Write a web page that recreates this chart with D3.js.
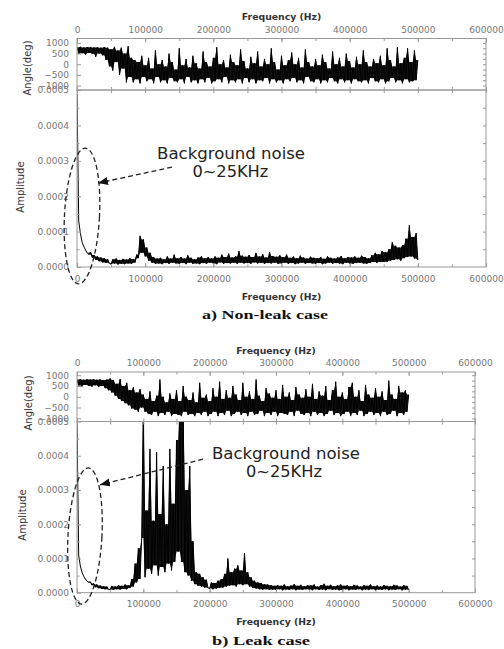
<!DOCTYPE html>
<html>
<head>
<meta charset="utf-8">
<script src="https://cdn.jsdelivr.net/npm/d3@7"></script>
<style>
body { margin: 0; background: #fff; }
text { font-family: "DejaVu Sans", sans-serif; }
</style>
</head>
<body>
<script>
// spectra sampled every 2500 Hz from 0 to 500000 Hz
const binHz = 2500;
const freqTicks = [0, 100000, 200000, 300000, 400000, 500000, 600000];
const angleTicks = [-1000, -500, 0, 500, 1000];
const ampTicks = [0, 0.0001, 0.0002, 0.0003, 0.0004, 0.0005];

// a) non-leak case: phase (deg) and amplitude (x 1e-6)
const phaseA = [
  800,500,820,520,790,460,810,530,800,480,790,350,800,500,780,420,810,200,780,-100,
  700,-300,820,100,650,-500,780,-200,500,-850,850,-600,300,-850,200,-700,100,-900,400,-600,
  -50,-800,300,-700,-200,-900,650,-600,0,-850,200,-750,-100,-900,500,-650,100,-800,-250,-850,
  750,-700,-50,-900,250,-600,-150,-850,400,-750,50,-900,-200,-700,600,-850,100,-650,-100,-900,
  300,-800,800,-700,0,-850,200,-600,-150,-900,450,-750,100,-850,-50,-700,700,-900,150,-650,
  -200,-850,350,-700,50,-900,600,-750,-100,-800,250,-650,0,-900,750,-700,100,-850,-250,-750,
  400,-900,-50,-700,200,-800,550,-650,0,-850,300,-750,-150,-900,700,-600,100,-800,-100,-850,
  250,-700,-50,-900,450,-750,100,-850,-200,-650,600,-800,0,-900,300,-700,-100,-850,500,-750,
  150,-900,-150,-700,350,-800,0,-850,650,-750,100,-900,-100,-650,250,-800,50,-850,400,-700,
  -50,-900,750,-800,200,-650,-100,-850,800,-750,50,-900,300,-700,750,-850,100,-800,650,-750,
  200
];
const ampA = [
  490,130,95,70,58,48,40,35,42,26,34,20,30,16,27,13,25,12,22,10,
  8,22,10,24,7,20,9,23,8,21,10,25,9,22,12,35,25,88,40,78,
  30,55,18,40,12,28,9,24,10,26,8,22,11,30,9,24,12,35,10,25,
  9,28,11,24,8,33,12,26,9,22,10,27,8,30,11,25,9,28,12,24,
  10,30,8,26,13,35,9,28,11,38,10,27,12,30,9,45,12,32,10,29,
  11,34,9,28,13,40,10,30,12,36,9,27,11,42,10,31,12,29,9,33,
  10,28,12,35,9,26,11,30,8,25,10,32,12,27,9,24,11,29,10,26,
  9,25,11,28,8,23,10,30,12,26,9,24,11,27,10,31,8,25,12,28,
  10,27,9,30,11,26,12,32,10,28,9,25,11,33,14,40,12,36,14,45,
  14,42,15,50,18,70,20,60,22,55,18,62,25,80,28,118,30,85,24,96,
  20
];

// b) leak case
const phaseB = [
  800,520,820,480,790,550,810,500,800,470,820,530,790,450,810,500,780,400,800,300,
  850,200,780,50,600,-100,820,-200,500,-300,650,-400,300,-550,450,-600,200,-700,350,-500,
  100,-700,-100,-800,250,-850,-200,-700,50,-900,800,-750,0,-850,-250,-700,150,-900,-100,-800,
  300,-850,-200,-900,500,-700,0,-850,-150,-800,200,-900,-250,-750,650,-850,-50,-700,100,-900,
  -200,-800,400,-700,0,-900,700,-750,-100,-850,300,-650,-50,-900,500,-800,100,-700,-150,-850,
  650,-750,0,-900,250,-700,-100,-850,800,-800,50,-650,-200,-900,400,-750,150,-850,-50,-700,
  300,-900,-100,-750,550,-800,0,-850,200,-700,-150,-900,450,-650,100,-800,-50,-850,350,-750,
  0,-900,600,-700,-100,-850,250,-750,50,-900,500,-800,-150,-650,300,-850,700,-750,0,-900,
  200,-800,-100,-700,450,-900,650,-750,0,-850,300,-650,-200,-900,550,-800,100,-700,-50,-850,
  400,-750,0,-900,250,-700,-150,-850,750,-800,100,-650,-100,-900,500,-750,200,-850,300,-700,
  100
];
const ampB = [
  500,110,78,60,48,40,34,30,32,22,27,16,24,13,21,11,19,10,18,9,
  9,20,8,18,10,22,9,20,11,24,10,22,14,40,18,85,30,130,40,160,
  560,45,240,70,420,55,210,80,410,50,230,75,370,60,200,85,420,65,260,90,
  446,120,560,90,560,60,300,50,370,35,150,25,60,20,55,18,45,15,38,14,
  12,30,10,28,12,35,14,40,15,55,18,100,20,60,22,70,18,80,25,65,
  22,116,25,60,18,45,14,35,12,30,10,28,9,25,10,24,8,22,9,20,
  8,22,10,20,7,24,9,19,8,21,10,25,7,20,9,23,8,19,10,22,
  9,21,7,24,10,18,8,22,9,26,7,20,10,23,8,19,9,21,7,24,
  8,20,10,22,7,19,9,23,8,21,10,18,7,22,9,20,8,24,10,19,
  7,21,9,18,8,22,10,20,7,19,9,23,8,21,10,18,7,22,9,20,
  8
];

const svg = d3.select("body").append("svg").attr("width", 504).attr("height", 649);

svg.append("defs").append("marker")
  .attr("id", "arrow").attr("markerUnits", "userSpaceOnUse")
  .attr("markerWidth", 12).attr("markerHeight", 10)
  .attr("refX", 10).attr("refY", 4).attr("orient", "auto")
  .append("path").attr("d", "M0,0 L10,4 L0,8 Z").attr("fill", "#111");

function styleAxis(g, labels) {
  g.select(".domain").remove();
  g.selectAll(".tick line").attr("stroke", "#999");
  g.selectAll("text").attr("fill", "#777").attr("font-size", 9)
    .attr("font-family", "DejaVu Sans, sans-serif");
  if (!labels) g.selectAll("text").remove();
}

// dense trace: fill the band between neighbouring samples, then draw the line for the spikes
function trace(g, data, x, y, clip) {
  const nb = i => [i > 0 ? data[i - 1] : data[i], i < data.length - 1 ? data[i + 1] : data[i]];
  const lo = data.map((v, i) => Math.min(v, d3.max(nb(i))));
  const hi = data.map((v, i) => Math.max(v, d3.min(nb(i))));
  g.append("path").datum(data)
    .attr("clip-path", clip).attr("fill", "#111")
    .attr("d", d3.area().x((d, i) => x(i * binHz)).y0((d, i) => y(lo[i])).y1((d, i) => y(hi[i])));
  g.append("path").datum(data)
    .attr("clip-path", clip)
    .attr("fill", "none").attr("stroke", "#000").attr("stroke-width", 1)
    .attr("stroke-linejoin", "bevel")
    .attr("d", d3.line().x((d, i) => x(i * binHz)).y(d => y(d)));
}

function panel(o, idx) {
  const x = d3.scaleLinear().domain([0, 600000]).range([o.left, o.right]);
  const yAng = d3.scaleLinear().domain([-o.angMax, o.angMax]).range([o.angBottom, o.angTop]);
  const yAmp = d3.scaleLinear().domain([0, 0.0005]).range([o.ampBottom, o.angBottom]);
  const yAmpU = v => yAmp(v * 1e-6);
  const minorF = d3.range(0, 600001, 50000);

  const g = svg.append("g");

  // clip paths
  const defs = svg.select("defs");
  defs.append("clipPath").attr("id", "cAng" + idx).append("rect")
    .attr("x", o.left).attr("y", o.angTop).attr("width", o.right - o.left).attr("height", o.angBottom - o.angTop);
  defs.append("clipPath").attr("id", "cAmp" + idx).append("rect")
    .attr("x", o.left).attr("y", o.angBottom).attr("width", o.right - o.left).attr("height", o.ampBottom - o.angBottom);

  // data
  trace(g, o.phase, x, yAng, `url(#cAng${idx})`);
  trace(g, o.amp, x, yAmpU, `url(#cAmp${idx})`);

  // frames
  [[o.angTop, o.angBottom], [o.angBottom, o.ampBottom]].forEach(([t, b]) => {
    g.append("rect").attr("x", o.left).attr("y", t)
      .attr("width", o.right - o.left).attr("height", b - t)
      .attr("fill", "none").attr("stroke", "#999").attr("stroke-width", 1);
  });

  // top axis with labels
  g.append("g").attr("transform", `translate(0,${o.angTop})`)
    .call(d3.axisTop(x).tickValues(freqTicks).tickSize(-4).tickPadding(o.topPad).tickFormat(d3.format("d")))
    .call(s => styleAxis(s, true));
  g.append("g").attr("transform", `translate(0,${o.angTop})`)
    .call(d3.axisTop(x).tickValues(minorF).tickSize(-2.5))
    .call(s => styleAxis(s, false));
  // ticks at the panel boundary
  g.append("g").attr("transform", `translate(0,${o.angBottom})`)
    .call(d3.axisBottom(x).tickValues(minorF).tickSize(-3))
    .call(s => styleAxis(s, false));
  g.append("g").attr("transform", `translate(0,${o.angBottom})`)
    .call(d3.axisTop(x).tickValues(minorF).tickSize(-3))
    .call(s => styleAxis(s, false));
  // bottom axis with labels
  g.append("g").attr("transform", `translate(0,${o.ampBottom})`)
    .call(d3.axisBottom(x).tickValues(freqTicks).tickSize(-4).tickPadding(o.bottomPad).tickFormat(d3.format("d")))
    .call(s => styleAxis(s, true));
  g.append("g").attr("transform", `translate(0,${o.ampBottom})`)
    .call(d3.axisBottom(x).tickValues(minorF).tickSize(-2.5))
    .call(s => styleAxis(s, false));

  // left axes
  g.append("g").attr("transform", `translate(${o.left},0)`)
    .call(d3.axisLeft(yAng).tickValues(angleTicks).tickSize(-4).tickPadding(8).tickFormat(d3.format("d")))
    .call(s => styleAxis(s, true));
  g.append("g").attr("transform", `translate(${o.left},0)`)
    .call(d3.axisLeft(yAmp).tickValues(ampTicks).tickSize(-4).tickPadding(8).tickFormat(d3.format(".4f")))
    .call(s => styleAxis(s, true));
  g.append("g").attr("transform", `translate(${o.left},0)`)
    .call(d3.axisLeft(yAmp).tickValues(d3.range(0.00005, 0.0005, 0.0001)).tickSize(-2.5))
    .call(s => styleAxis(s, false));
  // right axes
  g.append("g").attr("transform", `translate(${o.right},0)`)
    .call(d3.axisRight(yAng).tickValues(d3.range(-1000, 1001, 250)).tickSize(-3))
    .call(s => styleAxis(s, false));
  g.append("g").attr("transform", `translate(${o.right},0)`)
    .call(d3.axisRight(yAmp).tickValues(d3.range(0.00005, 0.0005, 0.00005)).tickSize(-3))
    .call(s => styleAxis(s, false));

  // titles
  const mid = (o.left + o.right) / 2;
  g.append("text").attr("x", mid).attr("y", o.topTitleY).attr("text-anchor", "middle")
    .attr("font-size", 9.3).attr("font-weight", "bold").attr("fill", "#333").text("Frequency (Hz)");
  g.append("text").attr("x", mid).attr("y", o.bottomTitleY).attr("text-anchor", "middle")
    .attr("font-size", 9.3).attr("font-weight", "bold").attr("fill", "#333").text("Frequency (Hz)");
  g.append("text").attr("transform", `translate(${o.angLabel[0]},${o.angLabel[1]}) rotate(-90)`)
    .attr("text-anchor", "middle").attr("font-size", 10).attr("fill", "#333").text("Angle(deg)");
  g.append("text").attr("transform", `translate(${o.ampLabel[0]},${o.ampLabel[1]}) rotate(-90)`)
    .attr("text-anchor", "middle").attr("font-size", 10).attr("fill", "#333").text("Amplitude");
  g.append("text").attr("x", o.caption[0]).attr("y", o.caption[1]).attr("text-anchor", "middle")
    .style("font-family", "'Liberation Serif', serif").attr("font-weight", "bold").attr("font-size", 13)
    .attr("textLength", o.caption[2]).attr("lengthAdjust", "spacingAndGlyphs")
    .attr("fill", "#111").text(o.caption[3]);

  // annotation
  const n = o.note;
  const cx = x(n.ellipse[0]), cy = yAmp(n.ellipse[1]);
  g.append("ellipse").attr("cx", cx).attr("cy", cy)
    .attr("rx", x(n.ellipse[0] + n.ellipse[2]) - cx)
    .attr("ry", yAmp(n.ellipse[1] - n.ellipse[3]) - cy)
    .attr("transform", `rotate(3,${cx},${cy})`)
    .attr("fill", "none").attr("stroke", "#222").attr("stroke-width", 1.3).attr("stroke-dasharray", "5,3");
  g.append("line")
    .attr("x1", x(n.arrow[0])).attr("y1", yAmp(n.arrow[1]))
    .attr("x2", x(n.arrow[2])).attr("y2", yAmp(n.arrow[3]))
    .attr("stroke", "#222").attr("stroke-width", 1.3).attr("stroke-dasharray", "5,3")
    .attr("marker-end", "url(#arrow)");
  g.append("text").attr("x", x(n.text1[0])).attr("y", yAmp(n.text1[1])).attr("text-anchor", "middle")
    .attr("font-size", 15).attr("textLength", 148).attr("lengthAdjust", "spacingAndGlyphs")
    .attr("fill", "#222").text("Background noise");
  g.append("text").attr("x", x(n.text2[0])).attr("y", yAmp(n.text2[1])).attr("text-anchor", "middle")
    .attr("font-size", 15).attr("textLength", 76).attr("lengthAdjust", "spacingAndGlyphs")
    .attr("fill", "#222").text("0~25KHz");
}

panel({
  left: 77, right: 486, angTop: 38.5, angBottom: 90, ampBottom: 267, angMax: 1210,
  topPad: 6, bottomPad: 8.5, topTitleY: 20, bottomTitleY: 300,
  angLabel: [31, 68], ampLabel: [24, 187],
  caption: [265, 319, 126, "a) Non-leak case"],
  phase: phaseA, amp: ampA,
  note: {
    ellipse: [7300, 0.000144, 25700, 0.000192],
    arrow: [139400, 0.000282, 30800, 0.000237],
    text1: [226000, 0.000305], text2: [225000, 0.000254]
  }
}, 0);

panel({
  left: 77, right: 475, angTop: 372, angBottom: 421.5, ampBottom: 592.7, angMax: 1150,
  topPad: 6, bottomPad: 8, topTitleY: 354, bottomTitleY: 625,
  angLabel: [31.5, 403], ampLabel: [26, 515],
  caption: [261, 645, 98, "b) Leak case"],
  phase: phaseB, amp: ampB,
  note: {
    ellipse: [12000, 0.0001656, 25600, 0.000199],
    arrow: [190000, 0.00039, 34700, 0.000315],
    text1: [315000, 0.000391], text2: [312000, 0.000338]
  }
}, 1);
</script>
</body>
</html>
